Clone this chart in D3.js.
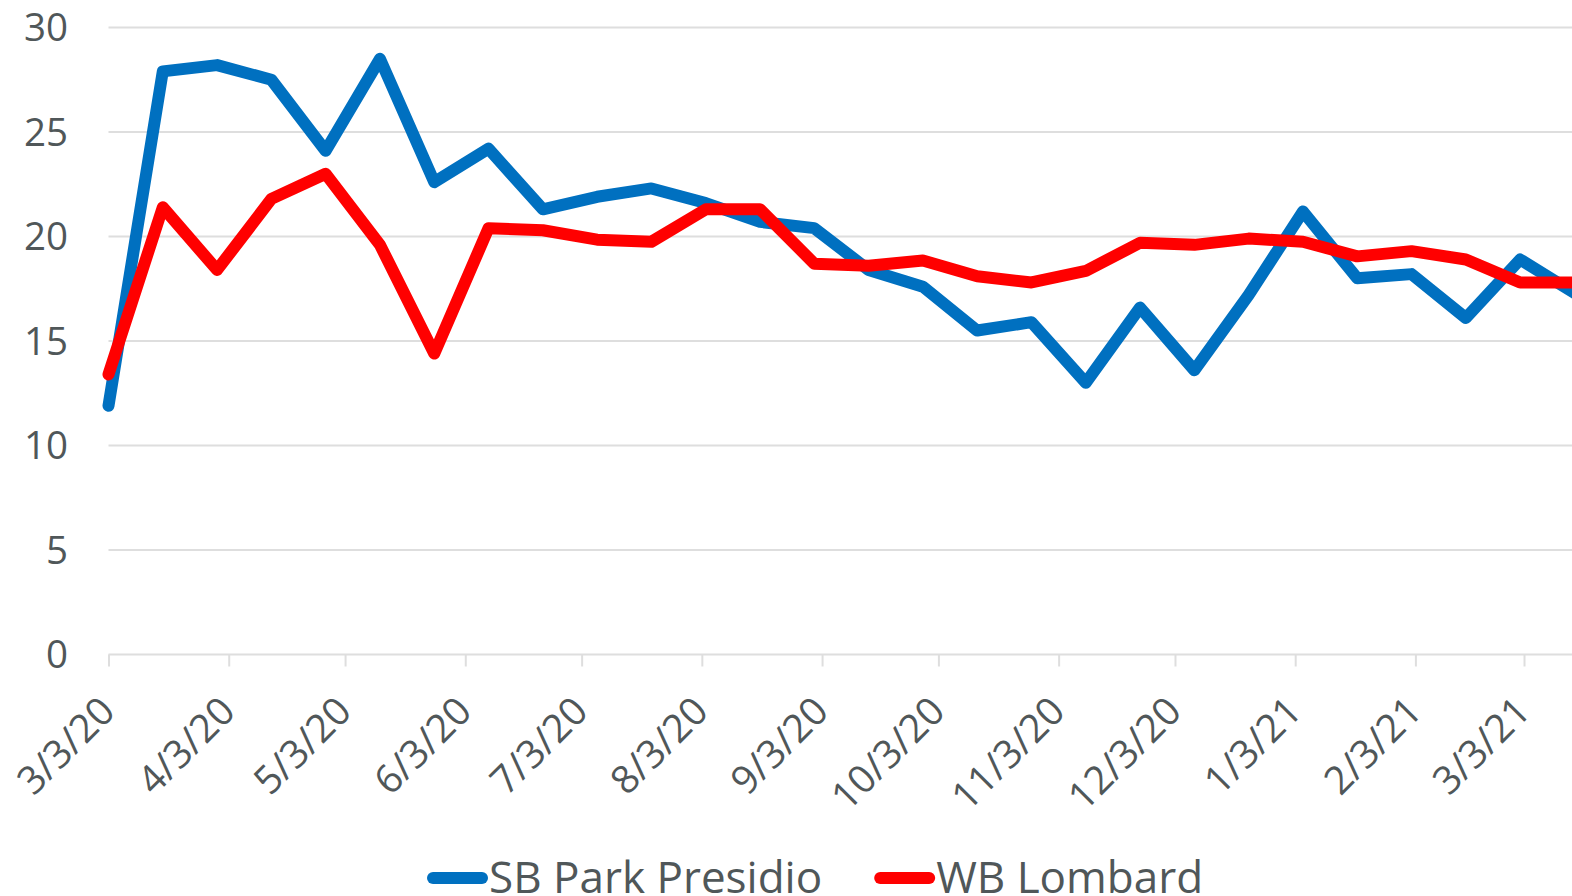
<!DOCTYPE html>
<html>
<head>
<meta charset="utf-8">
<script src="https://cdn.jsdelivr.net/npm/d3@7"></script>
<style>
  html, body { margin: 0; padding: 0; background: #fff; overflow: hidden; }
  text { font-family: "Open Sans", "Noto Sans", sans-serif; fill: #505759; }
</style>
</head>
<body>
<script>
// biweekly readings starting 3/3/20
const startDate = "3/3/20";
const stepDays = 14;
const seriesNames = ["SB Park Presidio", "WB Lombard"];
const seriesColors = ["#0070c0", "#ff0000"];
const sbParkPresidio = [11.9, 27.9, 28.2, 27.5, 24.1, 28.5, 22.6, 24.2, 21.3, 21.9, 22.3, 21.6, 20.7, 20.4,
  18.4, 17.6, 15.5, 15.9, 13.0, 16.6, 13.6, 17.2, 21.2, 18.0, 18.2, 16.1, 18.9, 17.3];
const wbLombard = [13.4, 21.4, 18.4, 21.8, 23.0, 19.6, 14.4, 20.4, 20.3, 19.85, 19.75, 21.3, 21.3, 18.7,
  18.6, 18.85, 18.1, 17.8, 18.35, 19.7, 19.6, 19.9, 19.75, 19.05, 19.3, 18.9, 17.8, 17.8];
const xTickLabels = ["3/3/20", "4/3/20", "5/3/20", "6/3/20", "7/3/20", "8/3/20", "9/3/20", "10/3/20",
  "11/3/20", "12/3/20", "1/3/21", "2/3/21", "3/3/21"];
const yTicks = [0, 5, 10, 15, 20, 25, 30];

const W = 1572, H = 896;
const parse = d3.timeParse("%m/%d/%y");
const t0 = parse(startDate);
const tickDates = xTickLabels.map(parse);

const svg = d3.select(document.body).append("svg")
  .attr("width", W).attr("height", H);

const x = d3.scaleTime()
  .domain([t0, tickDates[tickDates.length - 1]])
  .range([108.5, 1524]);
const y = d3.scaleLinear().domain([0, 30]).range([654.5, 27.5]);

// gridlines
svg.append("g")
  .selectAll("line")
  .data(yTicks.slice(1))
  .join("line")
  .attr("x1", x.range()[0]).attr("x2", W)
  .attr("y1", d => y(d)).attr("y2", d => y(d))
  .attr("stroke", "#dedede").attr("stroke-width", 2);

// y labels
svg.append("g")
  .selectAll("text")
  .data(yTicks)
  .join("text")
  .attr("x", 68).attr("y", d => y(d))
  .attr("dy", "0.36em")
  .attr("text-anchor", "end")
  .style("font-size", "38.5px")
  .text(d => d);

// x axis
const xAxis = svg.append("g")
  .attr("transform", `translate(0,${y(0)})`)
  .call(d3.axisBottom(x).tickValues(tickDates).tickSize(12).tickFormat((d, i) => xTickLabels[i]));
xAxis.select(".domain").remove();
xAxis.append("line").attr("x1", x.range()[0]).attr("x2", W)
  .attr("stroke", "#dedede").attr("stroke-width", 2);
xAxis.selectAll(".tick line").attr("stroke", "#dedede").attr("stroke-width", 2);
xAxis.selectAll(".tick text")
  .attr("y", 0).attr("dy", 0)
  .attr("transform", "translate(8,59) rotate(-45)")
  .attr("text-anchor", "end")
  .style("font-size", "39px")
  .attr("fill", null);

// lines
const line = d3.line()
  .x((d, i) => x(d3.timeDay.offset(t0, i * stepDays)))
  .y(d => y(d));

[sbParkPresidio, wbLombard].forEach((vals, k) => {
  svg.append("path")
    .datum(vals)
    .attr("d", line)
    .attr("fill", "none")
    .attr("stroke", seriesColors[k])
    .attr("stroke-width", 12)
    .attr("stroke-linejoin", "round")
    .attr("stroke-linecap", "round");
});

// legend
const legend = svg.append("g");
let lx = 427;
seriesNames.forEach((name, k) => {
  legend.append("line")
    .attr("x1", lx + 6).attr("x2", lx + 55)
    .attr("y1", 878).attr("y2", 878)
    .attr("stroke", seriesColors[k]).attr("stroke-width", 12)
    .attr("stroke-linecap", "round");
  const t = legend.append("text")
    .attr("x", lx + 62).attr("y", 893)
    .style("font-size", "44px")
    .text(name);
  lx = lx + 62 + t.node().getComputedTextLength() + 52;
});
</script>
</body>
</html>
